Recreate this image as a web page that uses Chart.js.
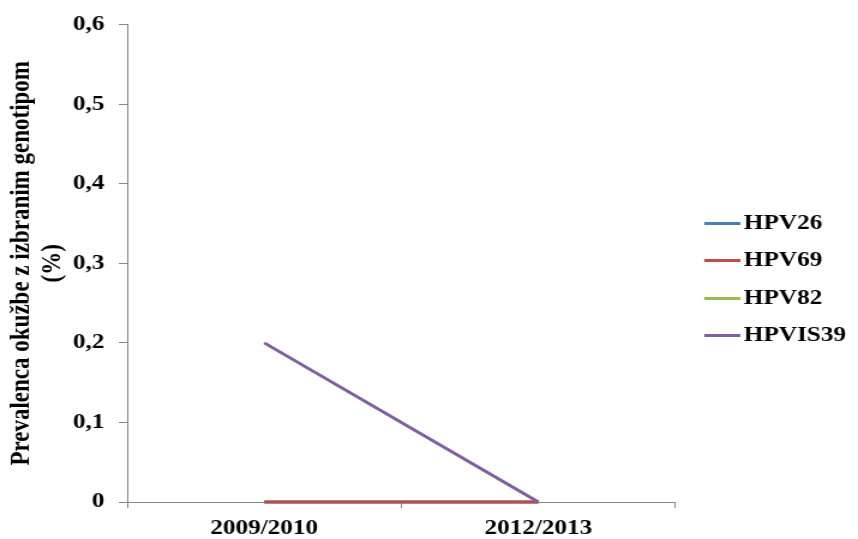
<!DOCTYPE html>
<html>
<head>
<meta charset="utf-8">
<script src="https://cdn.jsdelivr.net/npm/chart.js@4/dist/chart.umd.min.js"></script>
<style>
  html, body { margin: 0; padding: 0; background: #ffffff; overflow: hidden; }
  /* the chart is laid out narrow and widened horizontally, like the stretched office chart */
  #wrap { width: 715px; height: 539px; transform: scaleX(1.2); transform-origin: 0 0; }
  #chart { display: block; width: 715px; height: 539px; }
</style>
</head>
<body>
<div id="wrap"><canvas id="chart" width="715" height="539"></canvas></div>
<script>
// School years on the x axis
const categories = ['2009/2010', '2012/2013'];

// Prevalence (%) per genotype; HPV82 has no plotted values
const hpv26 = [0, 0];
const hpv69 = [0, 0];
const hpv82 = [null, null];
const hpvis39 = [0.2, 0];

const seriesNames = ['HPV26', 'HPV69', 'HPV82', 'HPVIS39'];
const seriesColors = ['#4A7EBB', '#BE4B48', '#98B954', '#7D60A0'];

// Y tick labels with decimal comma
const yTickLabels = ['0', '0,1', '0,2', '0,3', '0,4', '0,5', '0,6'];

const axisTitle = ['Prevalenca okužbe z izbranim genotipom', '(%)'];

const FONT = "'Liberation Serif', 'Times New Roman', serif";
const AXIS_GRAY = '#868686';

// short line swatch used as legend marker; the line sits in the right part of the image
function swatch(color) {
  const c = document.createElement('canvas');
  c.width = 45; c.height = 3;
  const g = c.getContext('2d');
  g.fillStyle = color;
  g.fillRect(15, 0, 30, 3);
  return c;
}
const swatches = seriesColors.map(swatch);

const values = [hpv26, hpv69, hpv82, hpvis39];
// later series are painted over earlier ones
const drawOrder = [3, 2, 1, 0];

const datasets = seriesNames.map((name, i) => ({
  label: name,
  data: values[i],
  borderColor: seriesColors[i],
  backgroundColor: seriesColors[i],
  borderWidth: 3,
  pointRadius: 0,
  pointHoverRadius: 0,
  tension: 0,
  clip: false,
  order: drawOrder[i]
}));

new Chart(document.getElementById('chart'), {
  type: 'line',
  data: { labels: categories, datasets },
  options: {
    responsive: false,
    animation: false,
    events: [],
    layout: { padding: { top: 20, right: 0, bottom: 0, left: 0 } },
    plugins: {
      tooltip: { enabled: false },
      legend: {
        position: 'right',
        align: 'center',
        labels: {
          usePointStyle: true,
          pointStyleWidth: 30,
          boxHeight: 21,
          padding: 16.5,
          color: '#000000',
          font: { family: FONT, size: 21, weight: 'bold' },
          generateLabels: (chart) => chart.data.datasets.map((ds, i) => ({
            text: ds.label,
            fillStyle: ds.borderColor,
            strokeStyle: ds.borderColor,
            lineWidth: 0,
            pointStyle: swatches[i],
            hidden: false,
            datasetIndex: i
          }))
        }
      }
    },
    scales: {
      x: {
        type: 'category',
        offset: true,
        grid: {
          offset: true,
          drawOnChartArea: false,
          drawTicks: true,
          tickLength: 6,
          color: AXIS_GRAY,
          lineWidth: 1
        },
        border: { display: true, color: AXIS_GRAY, width: 1 },
        ticks: {
          color: '#000000',
          padding: 8,
          maxRotation: 0,
          font: { family: FONT, size: 21, weight: 'bold' }
        },
        afterFit: (scale) => { scale.height = 37; }
      },
      y: {
        min: 0,
        max: 0.6,
        grid: {
          drawOnChartArea: false,
          drawTicks: true,
          tickLength: 7,
          color: AXIS_GRAY,
          lineWidth: 1
        },
        border: { display: true, color: AXIS_GRAY, width: 1 },
        ticks: {
          stepSize: 0.1,
          color: '#000000',
          padding: 12,
          font: { family: FONT, size: 21, weight: 'bold' },
          callback: (value, index) => yTickLabels[index]
        },
        title: {
          display: true,
          text: axisTitle,
          color: '#000000',
          padding: { top: 6, bottom: 4 },
          font: { family: FONT, size: 23, weight: 'bold', lineHeight: 1.09 }
        },
        afterFit: (scale) => { scale.width = 106; }
      }
    }
  }
});
</script>
</body>
</html>
